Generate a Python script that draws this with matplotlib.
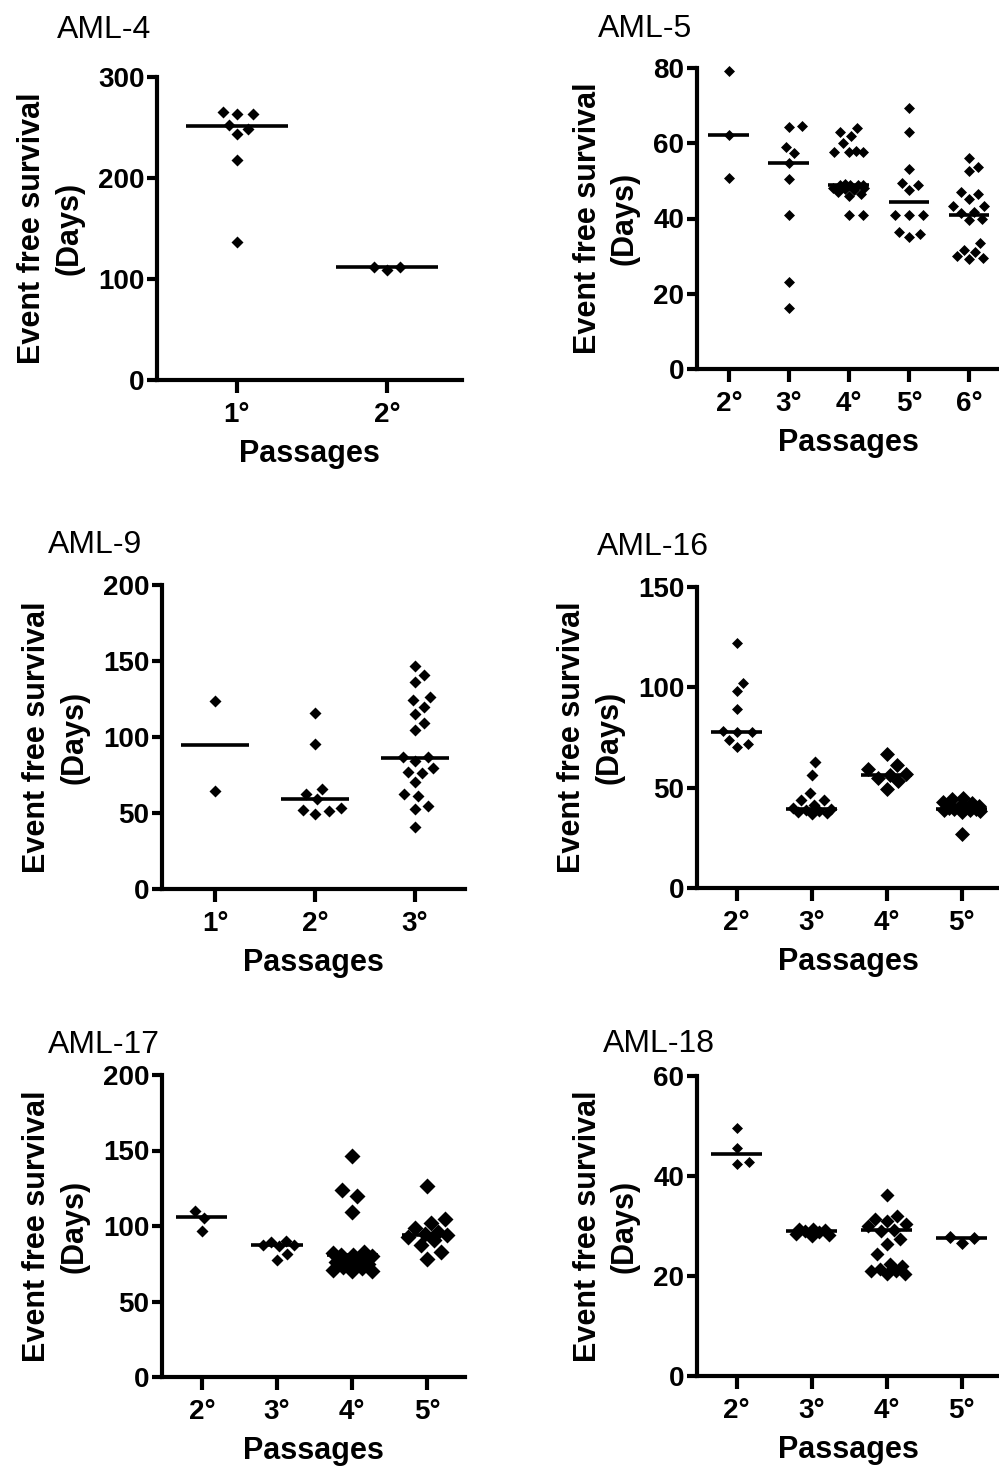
import numpy as np
import matplotlib.pyplot as plt

plt.rcParams['font.family'] = ['Liberation Sans', 'DejaVu Sans']

W, H = 999, 1466

# ---- data (days) ----
aml4_passages = ['1°', '2°']
aml4_values = [
    [265, 263, 263, 252, 249, 244, 218, 137],
    [112, 111.5, 109],
]
aml4_medians = [251, 111.6]

aml5_passages = ['2°', '3°', '4°', '5°', '6°']
aml5_values = [
    [79.2, 62.3, 50.7],
    [64.7, 64.4, 59.1, 57.3, 54.7, 50.5, 40.9, 23.2, 16.1],
    [64.1, 63.1, 61.8, 60.0, 58.0, 57.7, 57.7, 57.7, 49.2, 49.0, 49.0, 49.0,
     48.8, 48.0, 48.0, 47.8, 47.5, 47.0, 46.5, 46.0, 41.0, 41.0],
    [69.3, 62.9, 53.1, 49.5, 49.0, 47.5, 41.0, 40.9, 40.8, 36.4, 36.0, 35.0],
    [56.2, 53.8, 52.5, 47.0, 46.5, 45.2, 43.3, 43.3, 41.8, 41.5, 40.0, 39.6,
     33.5, 31.5, 31.0, 30.0, 29.5, 29.3],
]
aml5_medians = [62.3, 54.7, 49.0, 44.5, 40.8]

aml9_passages = ['1°', '2°', '3°']
aml9_values = [
    [124, 64.8],
    [116, 95.5, 66, 62.6, 59.1, 53.2, 51.7, 51, 49.5],
    [146.7, 140.8, 136.4, 126.6, 124.4, 120, 115.2, 109.1, 104.7, 87.1, 86.7,
     84.5, 79.5, 77.3, 76.2, 70.3, 62.6, 61.5, 54.9, 52.6, 41.1],
]
aml9_medians = [94.8, 59.3, 86.5]

aml16_passages = ['2°', '3°', '4°', '5°']
aml16_values = [
    [122, 102, 98, 89, 78, 77.5, 77.5, 74, 72, 70.5],
    [63, 56.5, 47.5, 44, 44, 41.5, 40, 39.5, 39, 38.5, 38, 37.5, 37],
    [67, 61.5, 59.5, 57, 56.5, 55, 53.5, 49.5],
    [45, 44.5, 43, 42.5, 41, 40.5, 40, 40, 39.5, 39.5, 39, 39, 38.5, 38, 27],
]
aml16_medians = [77.6, 39.3, 56.4, 39.3]

aml17_passages = ['2°', '3°', '4°', '5°']
aml17_values = [
    [110, 105.6, 96.6],
    [90, 89.5, 87.5, 87.3, 87, 81.5, 77.5],
    [146.3, 123.8, 119.8, 109, 83, 82, 81, 80.7, 80, 78, 77, 76, 75, 74, 73,
     72, 71, 70.5, 70],
    [126.5, 104.5, 102, 98.5, 96, 95, 94, 93, 91, 87.5, 83, 78],
]
aml17_medians = [106, 87.3, 80.7, 94]

aml18_passages = ['2°', '3°', '4°', '5°']
aml18_values = [
    [49.7, 45.7, 42.9, 42.4],
    [29.5, 29.5, 29.2, 29, 28.8, 28.5, 28.3, 28],
    [36.2, 32, 31.5, 31, 30.5, 30, 29.2, 29, 27.5, 26.5, 24.5, 22.5, 22,
     21.5, 21, 21, 20.5, 20.5],
    [27.8, 27.6, 26.7],
]
aml18_medians = [44.4, 29.1, 29.2, 27.7]


# swarm the points sideways (in pixels), lowest first, within +-limit units;
# when a column is full the points are allowed to overlap
def swarm_offsets(ax, values, w, limit=0.26):
    ys = ax.transData.transform(np.column_stack([np.zeros(len(values)), values]))[:, 1]
    unit = ax.transData.transform((1, 0))[0] - ax.transData.transform((0, 0))[0]
    steps = np.arange(0.5, limit * unit + 0.01, 0.5)
    cands = np.concatenate([[0.0], np.column_stack([steps, -steps]).ravel()])
    px, py = [], []
    offsets = np.zeros(len(values))
    for i in np.argsort(ys, kind='stable'):
        if px:
            d = np.min(np.abs(cands[:, None] - np.array(px)) +
                       np.abs(ys[i] - np.array(py)), axis=1)
            ok = np.nonzero(d >= 1.3 * w)[0]
            dx = cands[ok[0]] if len(ok) else cands[np.argmax(d)]
        else:
            dx = 0.0
        offsets[i] = dx
        px.append(dx)
        py.append(ys[i])
    return offsets / unit


def panel(box, title, title_xy, passages, values, medians, yticks, marker_w):
    left, top, right, bottom = box
    ax = fig.add_axes([left / W, 1 - bottom / H, (right - left) / W, (bottom - top) / H])
    n = len(passages)
    ax.set_xlim(-0.53, n - 0.5)
    ax.set_ylim(0, yticks[-1])

    for i, (vals, med) in enumerate(zip(values, medians)):
        w = marker_w[i]
        dx = swarm_offsets(ax, vals, w)
        ax.scatter(i + dx, vals, marker='D', s=(w * 0.72 / 1.414) ** 2,
                   color='black', linewidths=0, zorder=2, clip_on=False)
        ax.plot([i - 0.34, i + 0.34], [med, med], color='black', lw=2.6,
                solid_capstyle='butt', zorder=3)

    ax.set_xticks(range(n))
    ax.set_xticklabels(passages)
    ax.set_yticks(yticks)
    for s in ['top', 'right']:
        ax.spines[s].set_visible(False)
    for s in ['left', 'bottom']:
        ax.spines[s].set_linewidth(3)
    ax.tick_params(axis='both', width=3, direction='out', labelsize=20)
    ax.tick_params(axis='y', length=7, pad=2)
    ax.tick_params(axis='x', length=9, pad=7)
    for lab in ax.get_xticklabels() + ax.get_yticklabels():
        lab.set_fontweight('bold')
    ax.set_xlabel('Passages', fontsize=22, fontweight='bold', labelpad=8)
    ax.set_ylabel('Event free survival\n(Days)', fontsize=22, fontweight='bold',
                  labelpad=10, linespacing=1.3)
    fig.text(title_xy[0] / W, 1 - title_xy[1] / H, title, fontsize=23,
             ha='left', va='baseline')
    return ax


fig = plt.figure(figsize=(W / 100, H / 100), dpi=100)

panel((157, 77, 462, 380), 'AML-4', (57, 38), aml4_passages, aml4_values,
      aml4_medians, [0, 100, 200, 300], [12, 12])
panel((697, 68, 999, 369), 'AML-5', (598, 37), aml5_passages, aml5_values,
      aml5_medians, [0, 20, 40, 60, 80], [11] * 5)
panel((162, 585, 465, 889), 'AML-9', (48, 553), aml9_passages, aml9_values,
      aml9_medians, [0, 50, 100, 150, 200], [12] * 3)
panel((697, 587, 999, 888), 'AML-16', (597, 555), aml16_passages, aml16_values,
      aml16_medians, [0, 50, 100, 150], [11, 12, 15, 15])
panel((162, 1075, 465, 1377), 'AML-17', (48, 1053), aml17_passages, aml17_values,
      aml17_medians, [0, 50, 100, 150, 200], [12, 12, 16, 16])
panel((697, 1076, 999, 1376), 'AML-18', (603, 1052), aml18_passages, aml18_values,
      aml18_medians, [0, 20, 40, 60], [11, 14, 14, 13])

fig.savefig('out.png', dpi=100)
